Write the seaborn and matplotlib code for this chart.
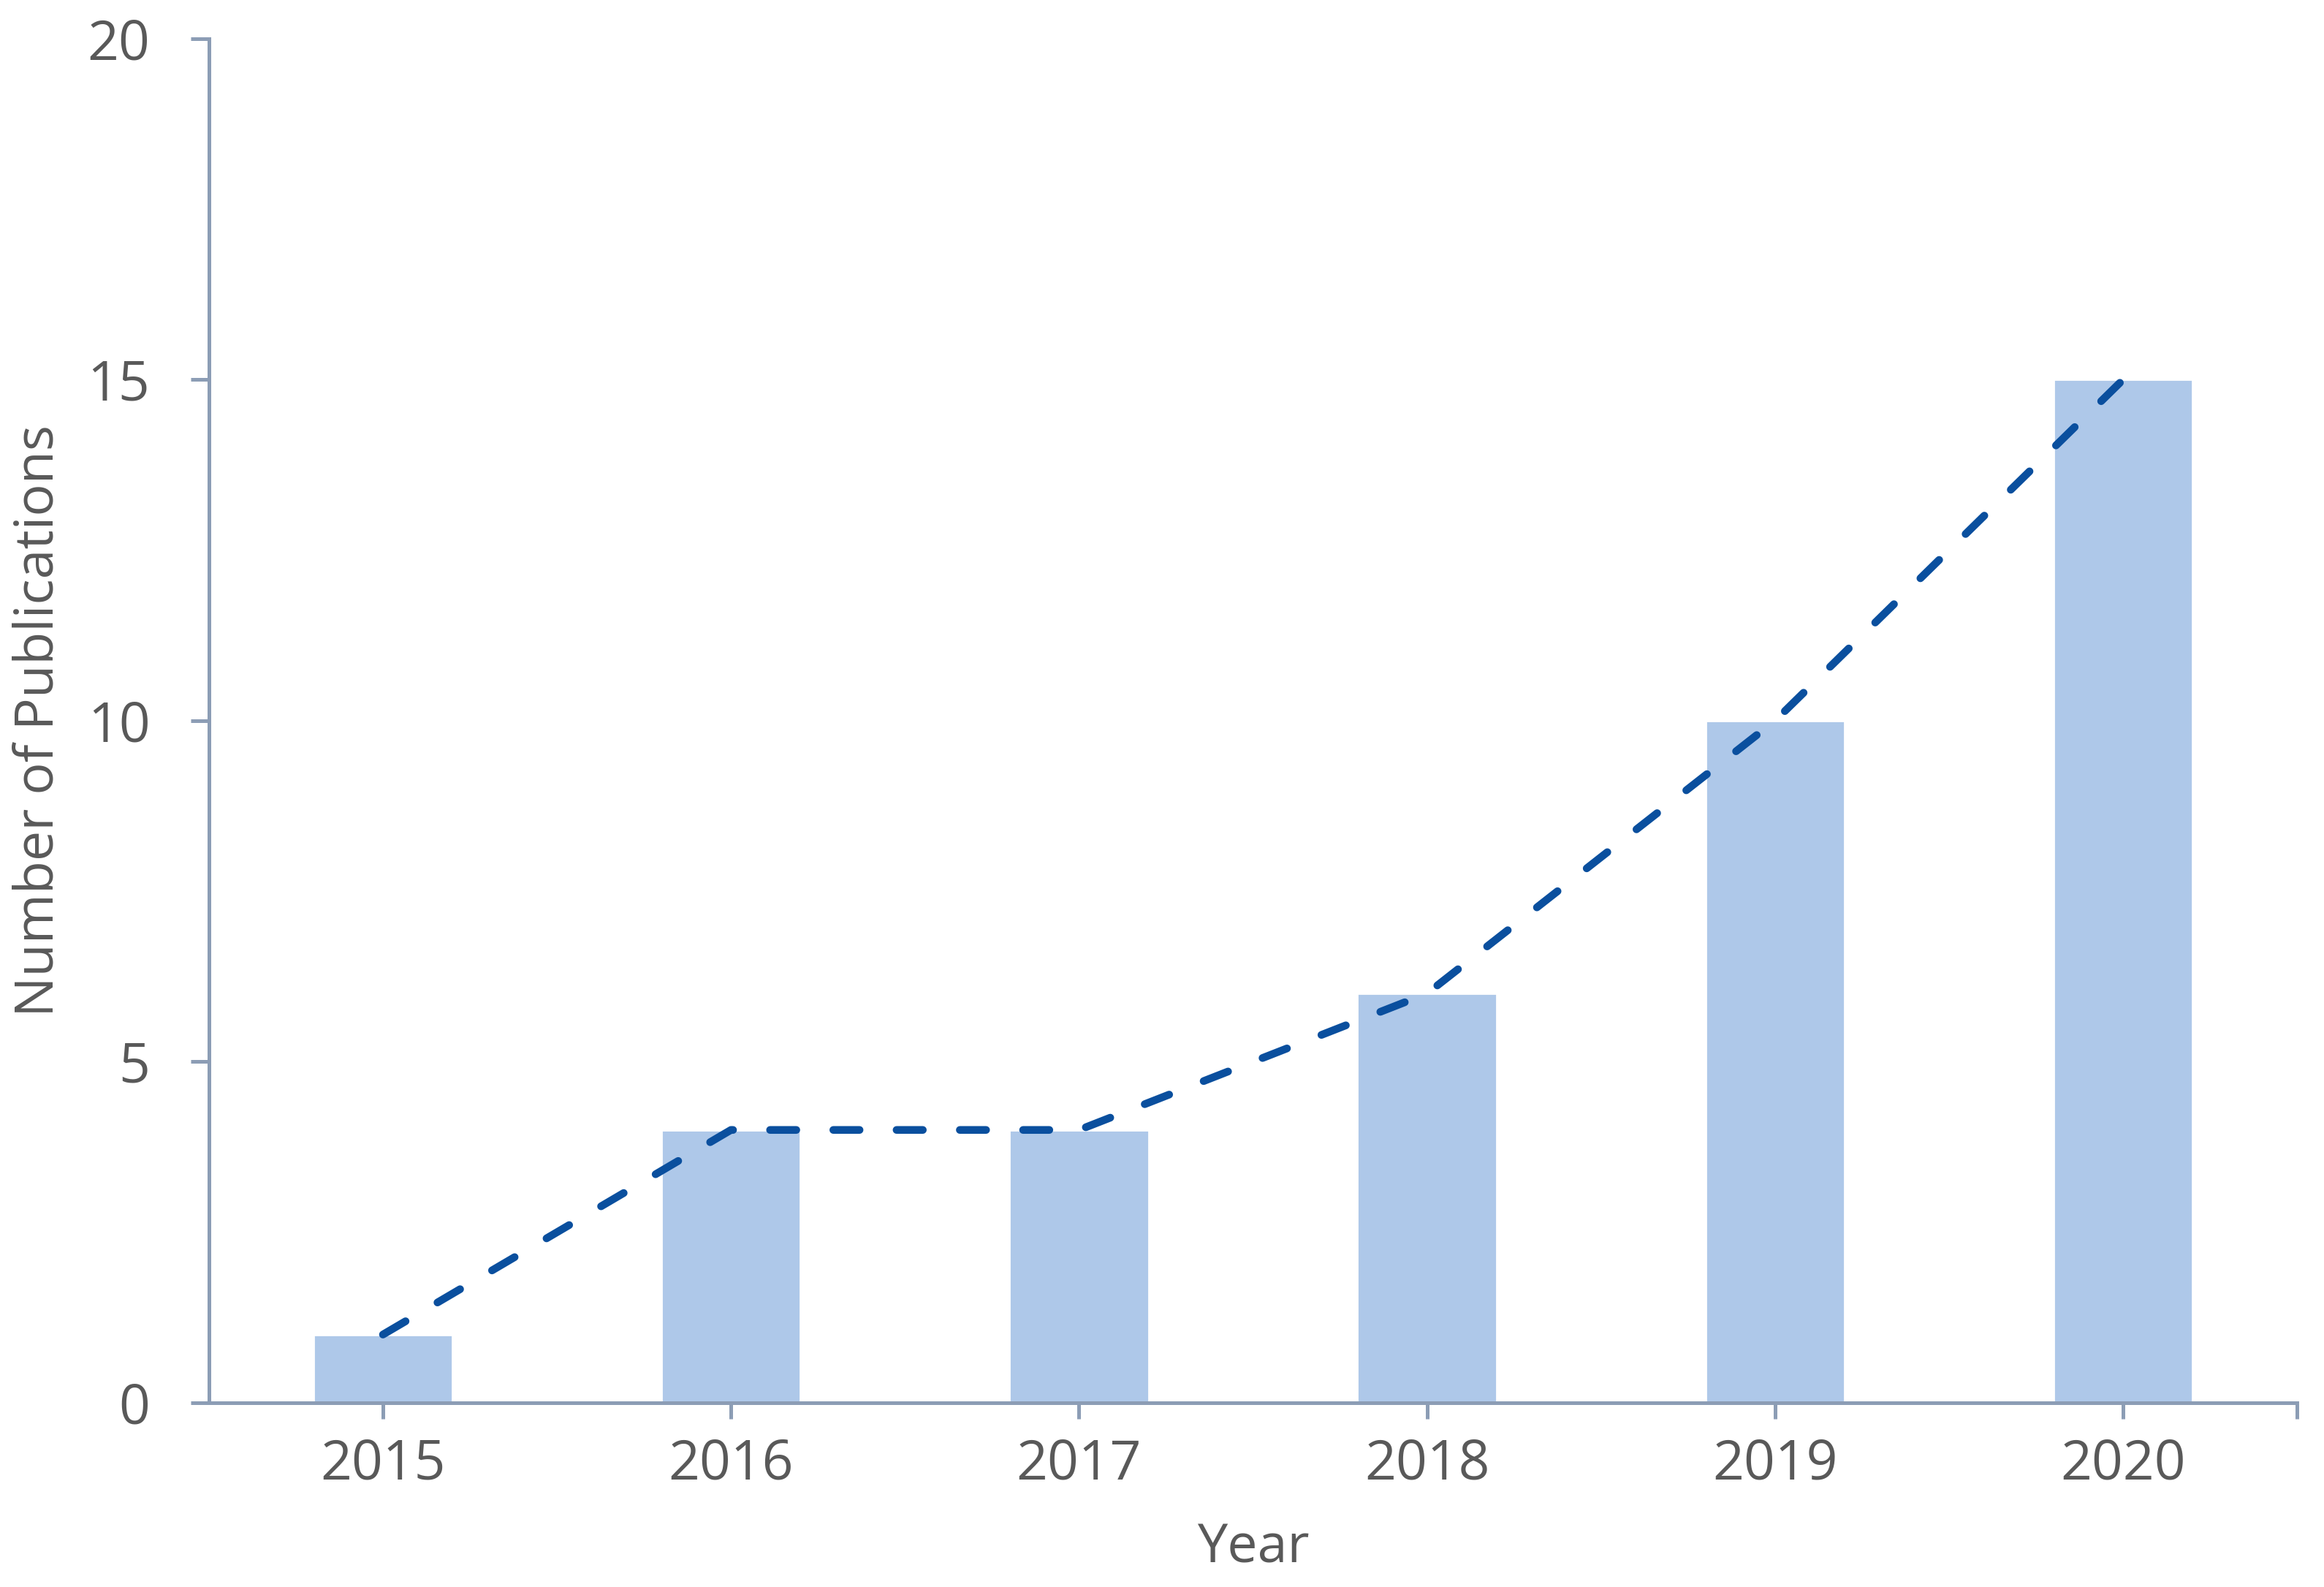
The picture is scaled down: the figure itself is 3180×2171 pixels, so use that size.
import matplotlib
matplotlib.use("Agg")
import matplotlib.pyplot as plt
import seaborn as sns
import pandas as pd

years = ["2015", "2016", "2017", "2018", "2019", "2020"]
publications = [1, 4, 4, 6, 10, 15]
y_ticks = [0, 5, 10, 15, 20]

bar_color = "#AEC8E9"
line_color = "#0A4F9E"
spine_color = "#8C9DB5"
text_color = "#595959"

sns.set_theme(style="white")
plt.rcParams["font.family"] = ["Open Sans", "DejaVu Sans"]

df = pd.DataFrame({"Year": years, "Publications": publications})

fig = plt.figure(figsize=(15.9, 10.855), dpi=200)
ax = fig.add_axes([0.0899, 0.1161, 0.8985, 0.8595])

sns.barplot(data=df, x="Year", y="Publications", color=bar_color,
            saturation=1, width=0.4, ax=ax, zorder=2)
sns.pointplot(data=df, x="Year", y="Publications", color=line_color,
              marker="", linestyle="--", ax=ax, zorder=3)
for ln in ax.lines:
    ln.set_linewidth(3.8)
    ln.set_dashes((3.4, 4.8))
    ln.set_dash_capstyle("round")
    ln.set_zorder(3)

ax.set_xlim(-0.5, 5.5)
ax.set_ylim(0, 20)
ax.set_yticks(y_ticks)
ax.set_xticks([5.5], minor=True)

for side in ["top", "right"]:
    ax.spines[side].set_visible(False)
for side in ["left", "bottom"]:
    ax.spines[side].set_color(spine_color)
    ax.spines[side].set_linewidth(1.8)
    ax.spines[side].set_zorder(4)

ax.tick_params(axis="y", which="major", direction="out", length=9, width=1.8,
               color=spine_color, left=True, labelsize=27, labelcolor=text_color, pad=20)
ax.tick_params(axis="x", which="both", direction="out", length=8, width=1.8,
               color=spine_color, bottom=True, labelsize=27, labelcolor=text_color, pad=9)

ax.set_xlabel("Year", fontsize=26.5, color=text_color)
ax.set_ylabel("Number of Publications", fontsize=26.5, color=text_color)
ax.yaxis.set_label_coords(-0.0683, 0.5)
ax.xaxis.set_label_coords(0.5, -0.087)

fig.savefig("out.png", dpi=200, facecolor="white")
